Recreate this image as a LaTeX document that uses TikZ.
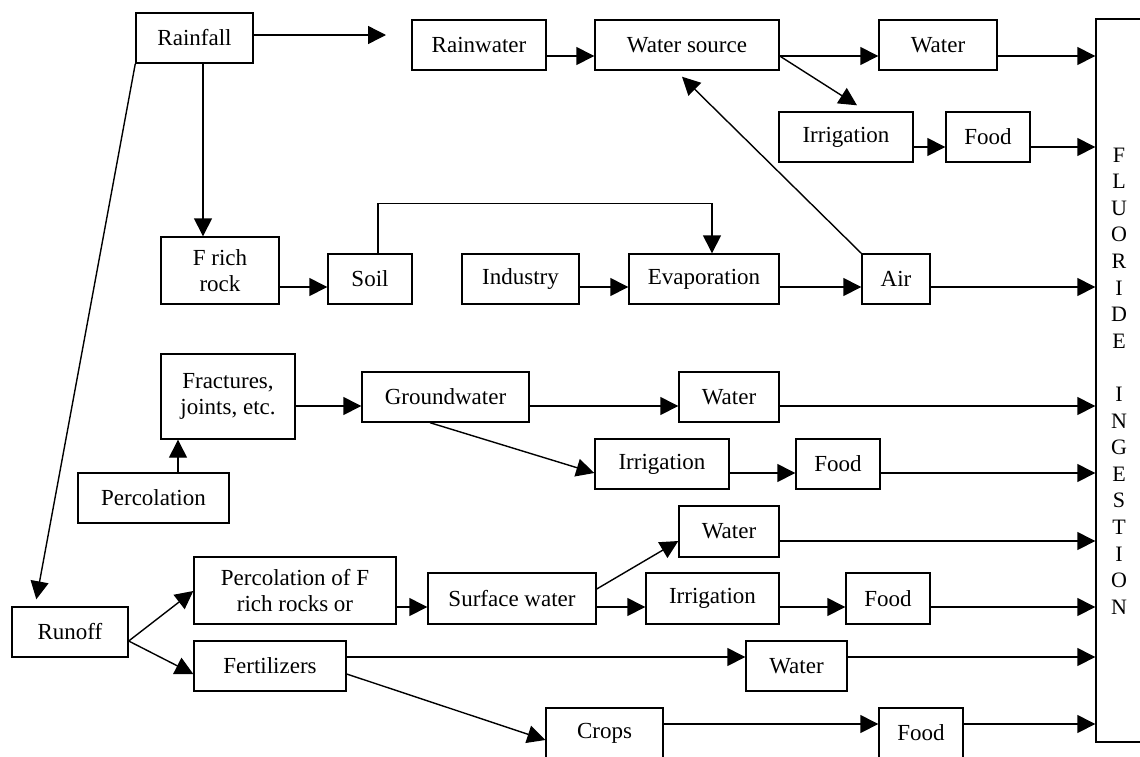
\documentclass[tikz,border=0pt]{standalone}
\usepackage{fontspec}
\setmainfont{Liberation Serif}
\usetikzlibrary{arrows.meta}
\begin{document}
\begin{tikzpicture}[x=1pt,y=-1pt,
  box/.style={draw,line width=1.4pt,inner sep=0pt,align=center,
    font=\fontsize{23}{26}\selectfont},
  arr/.style={line width=1.4pt,-{Triangle[length=18pt,width=18pt]}},
  ln/.style={line width=1.4pt}]
\useasboundingbox (0,0) rectangle (1140,756);
\clip (0,0) rectangle (1140,756);
% level coordinates
\coordinate (y35) at (0,35);
\coordinate (y56) at (0,56);
\coordinate (y147) at (0,147);
\coordinate (y287) at (0,287);
\coordinate (y406) at (0,406);
\coordinate (y473) at (0,473);
\coordinate (y541) at (0,541);
\coordinate (y607) at (0,607);
\coordinate (y641) at (0,641);
\coordinate (y657) at (0,657);
\coordinate (y674) at (0,674);
\coordinate (y589) at (0,589);
\coordinate (y724) at (0,724);
\coordinate (x178) at (178,0);
\coordinate (x430) at (430,0);
% nodes
\node[box,minimum width=117,minimum height=50] (rain) at (194.5,38) {Rainfall};
\node[box,minimum width=134,minimum height=50] (rw) at (479,45) {Rainwater};
\node[box,minimum width=184,minimum height=50] (ws) at (687,45) {Water source};
\node[box,minimum width=118,minimum height=50] (w1) at (938,45) {Water};
\node[box,minimum width=134,minimum height=50] (irr1) at (846,137) {Irrigation};
\node[box,minimum width=84,minimum height=50] (f1) at (988,137) {Food};
\node[box,minimum width=118,minimum height=67] (frock) at (220,270.5) {F rich\\rock};
\node[box,minimum width=84,minimum height=50] (soil) at (370,279) {Soil};
\node[box,minimum width=117,minimum height=50] (ind) at (520.5,279) {Industry};
\node[box,minimum width=150,minimum height=50] (evap) at (704,279) {Evaporation};
\node[box,minimum width=68,minimum height=50] (air) at (896,279) {Air};
\node[box,minimum width=134,minimum height=85] (fract) at (228,396.5) {Fractures,\\joints, etc.};
\node[box,minimum width=151,minimum height=50] (perc) at (153.5,498) {Percolation};
\node[box,minimum width=167,minimum height=50] (gw) at (445.5,397) {Groundwater};
\node[box,minimum width=100,minimum height=50] (w2) at (729,397) {Water};
\node[box,minimum width=134,minimum height=50] (irr2) at (662,464) {Irrigation};
\node[box,minimum width=84,minimum height=50] (f2) at (838,464) {Food};
\node[box,minimum width=100,minimum height=51] (w3) at (729,531.5) {Water};
\node[box,minimum width=116,minimum height=50] (runoff) at (70,632) {Runoff};
\node[box,minimum width=202,minimum height=67] (percf) at (295,590.5) {Percolation of F\\rich rocks or};
\node[box,minimum width=168,minimum height=51] (sw) at (512,598.5) {Surface water};
\node[box,minimum width=133,minimum height=51] (irr3) at (712.5,598.5) {Irrigation};
\node[box,minimum width=84,minimum height=51] (f3) at (888,598.5) {Food};
\node[box,minimum width=152,minimum height=50] (fert) at (270,666) {Fertilizers};
\node[box,minimum width=101,minimum height=50] (w4) at (796.5,666) {Water};
\node[box,minimum width=117,minimum height=50] (crops) at (604.5,733) {Crops};
\node[box,minimum width=84,minimum height=50] (f4) at (921,733) {Food};
\node[box,minimum width=60,minimum height=723] (fi) at (1126,380.5) {};
\node[inner sep=0pt,align=center,font=\fontsize{22}{26.6}\selectfont] (fitext) at (1119,381)
  {F\\L\\U\\O\\R\\I\\D\\E\\[26.6pt]I\\N\\G\\E\\S\\T\\I\\O\\N};
% connectors
\coordinate (rfree) at (386,35);
\draw[arr] (rain.east |- y35) -- (rfree);
\draw[arr] ([xshift=8.5pt]rain.south) -- ([xshift=-17pt]frock.north);
\draw[arr] (rain.south west) -- ([xshift=25pt,yshift=7pt]runoff.north west);
\draw[arr] (frock.east |- y287) -- (soil.west |- y287);
\draw[arr] ([xshift=8pt]soil.north) -- ++(0,-50) -| ([xshift=8pt]evap.north);
\draw[arr] (ind.east |- y287) -- (evap.west |- y287);
\draw[arr] (evap.east |- y287) -- (air.west |- y287);
\draw[arr] (air.east |- y287) -- (fi.west |- y287);
\draw[arr] (air.north west) -- ([xshift=-5pt,yshift=-6pt]ws.south);
\draw[arr] (rw.east |- y56) -- (ws.west |- y56);
\draw[arr] (ws.east |- y56) -- (w1.west |- y56);
\draw[arr] (w1.east |- y56) -- (fi.west |- y56);
\draw[arr] (ws.east |- y56) -- ([xshift=11pt,yshift=6pt]irr1.north);
\draw[arr] (irr1.east |- y147) -- (f1.west |- y147);
\draw[arr] (f1.east |- y147) -- (fi.west |- y147);
\draw[arr] (perc.north -| x178) -- (fract.south -| x178);
\draw[arr] (fract.east |- y406) -- (gw.west |- y406);
\draw[arr] (gw.east |- y406) -- (w2.west |- y406);
\draw[arr] (w2.east |- y406) -- (fi.west |- y406);
\draw[arr] (gw.south -| x430) -- (irr2.west |- y473);
\draw[arr] (irr2.east |- y473) -- (f2.west |- y473);
\draw[arr] (f2.east |- y473) -- (fi.west |- y473);
\draw[arr] (w3.east |- y541) -- (fi.west |- y541);
\draw[arr] (runoff.east |- y641) -- ([yshift=-0.5pt]percf.west);
\draw[arr] (runoff.east |- y641) -- (fert.west |- y674);
\draw[arr] (percf.east |- y607) -- (sw.west |- y607);
\draw[arr] (sw.east |- y589) -- (w3.west |- y541);
\draw[arr] (sw.east |- y607) -- (irr3.west |- y607);
\draw[arr] (irr3.east |- y607) -- (f3.west |- y607);
\draw[arr] (f3.east |- y607) -- (fi.west |- y607);
\draw[arr] (fert.east |- y657) -- (w4.west |- y657);
\draw[arr] (w4.east |- y657) -- (fi.west |- y657);
\draw[arr] (fert.east |- y674) -- ([yshift=-7pt]crops.west);
\draw[arr] (crops.east |- y724) -- (f4.west |- y724);
\draw[arr] (f4.east |- y724) -- (fi.west |- y724);
\end{tikzpicture}
\end{document}
